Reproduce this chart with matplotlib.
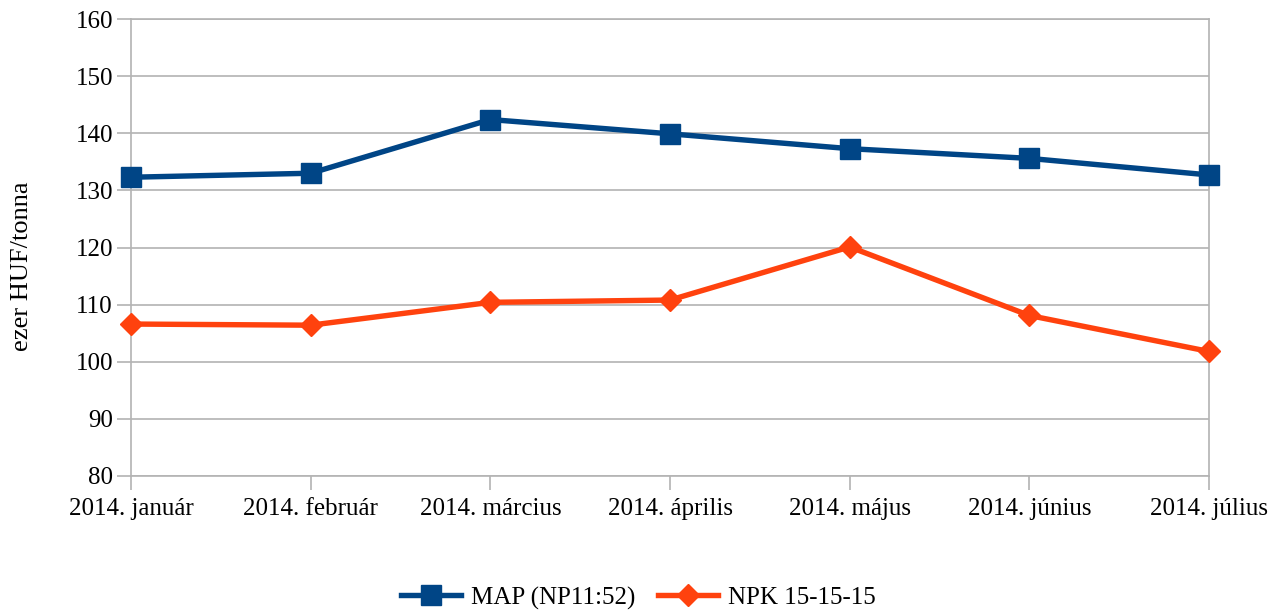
import matplotlib
matplotlib.use("Agg")
import matplotlib.pyplot as plt

plt.rcParams["font.family"] = ["Liberation Serif", "DejaVu Serif"]

honapok = ["2014. január", "2014. február", "2014. március", "2014. április",
           "2014. május", "2014. június", "2014. július"]
map_ar = [132.3, 133.0, 142.4, 139.9, 137.3, 135.6, 132.7]
npk_ar = [106.6, 106.4, 110.4, 110.8, 120.1, 108.1, 101.8]
y_tickek = [80, 90, 100, 110, 120, 130, 140, 150, 160]

KEK = "#004586"
NARANCS = "#ff420e"
SZURKE = "#b3b3b3"

fig = plt.figure(figsize=(12.77, 6.12), dpi=100)
ax = fig.add_axes([131/1277, 1 - 476/612, (1209 - 131)/1277, (476 - 19)/612])

x = range(len(honapok))
ax.plot(x, map_ar, color=KEK, lw=3.9, marker="s", markersize=14,
        label="MAP (NP11:52)", clip_on=False, zorder=3)
ax.plot(x, npk_ar, color=NARANCS, lw=3.9, marker="D", markersize=11,
        label="NPK 15-15-15", clip_on=False, zorder=3)

ax.set_xlim(0, len(honapok) - 1)
ax.set_ylim(80, 160)
ax.set_yticks(y_tickek)
ax.set_xticks(list(x))
ax.set_xticklabels(honapok)
ax.grid(axis="y", color=SZURKE, lw=1.2)
ax.set_axisbelow(True)
for s in ax.spines.values():
    s.set_color(SZURKE)
    s.set_linewidth(1.2)
ax.tick_params(axis="both", colors=SZURKE, labelcolor="black",
               labelsize=18, length=10, width=1.2, direction="out")
ax.tick_params(axis="x", pad=6)
ax.tick_params(axis="y", pad=3)
ax.set_ylabel("ezer HUF/tonna", fontsize=19, labelpad=30)
ax.yaxis.set_label_coords(-98/1078, 0.46)

fig.legend(loc="center", bbox_to_anchor=(0.5, 1 - 598/612), ncol=2,
           frameon=False, fontsize=18, handlelength=2.4, columnspacing=0.9,
           handletextpad=0.4)

fig.savefig("out.png", dpi=100)
